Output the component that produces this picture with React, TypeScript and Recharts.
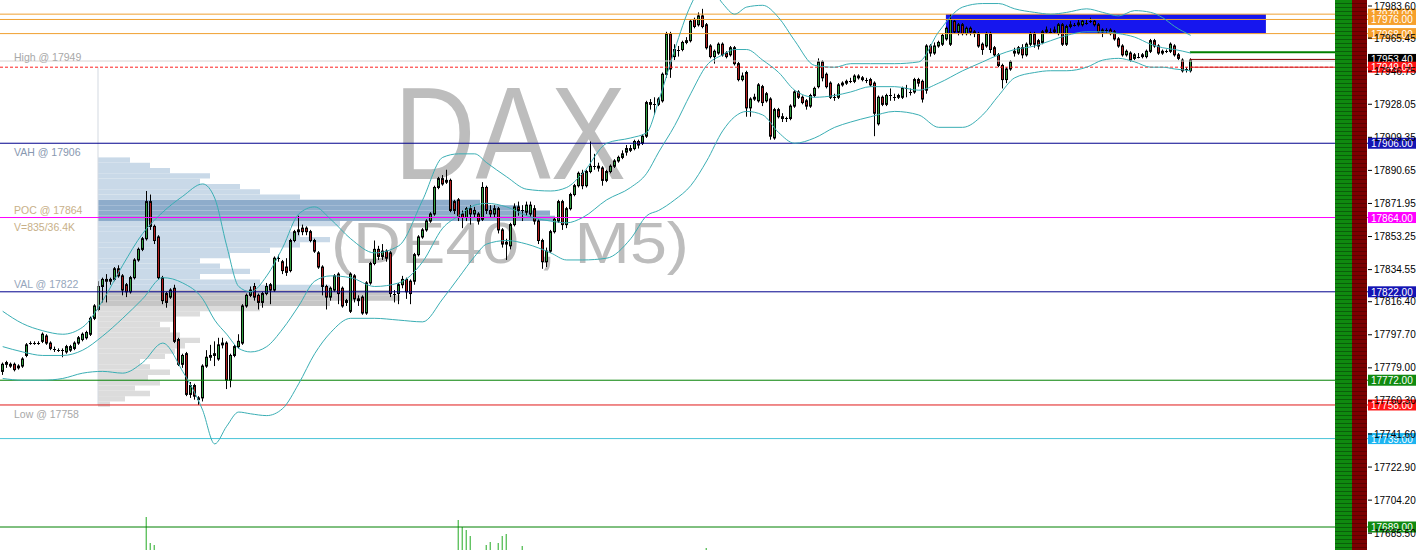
import React from "react";
import {
  ComposedChart,
  Bar,
  Line,
  XAxis,
  YAxis,
  ReferenceLine,
  ReferenceArea,
} from "recharts";

// DAX (DE40) M5 candles, oldest first
const opens = [
  17777, 17781, 17781, 17781, 17779, 17780, 17786, 17793, 17793, 17793.5,
  17794, 17797, 17793, 17790, 17789.5, 17789, 17788, 17789, 17790, 17793,
  17795, 17796, 17798, 17807, 17812, 17825, 17829, 17828, 17829, 17835,
  17831, 17826, 17822, 17830, 17840, 17846, 17852, 17873, 17859, 17853,
  17830, 17821, 17819, 17824, 17795, 17781, 17787, 17764, 17769, 17762,
  17762, 17780, 17785, 17786, 17784, 17792, 17793, 17772, 17786, 17791,
  17793, 17814, 17820, 17825, 17820, 17816, 17821, 17826, 17823, 17841,
  17839, 17836, 17834, 17851, 17856, 17858, 17858, 17856, 17851, 17844,
  17836, 17825, 17819, 17823, 17832, 17824, 17816, 17811, 17831, 17818,
  17819, 17810, 17827, 17838, 17846, 17842, 17845, 17844, 17821, 17821,
  17826, 17829, 17828, 17828, 17843, 17853, 17857, 17862, 17866, 17881,
  17886, 17884, 17885, 17873, 17874, 17866, 17864, 17869, 17866, 17866,
  17863, 17881, 17868, 17866, 17869, 17857, 17849, 17848, 17860, 17870,
  17868, 17867, 17866, 17869, 17862, 17851, 17839, 17845, 17856, 17862,
  17873, 17860, 17869, 17877, 17882, 17889, 17882, 17890, 17893, 17893,
  17892, 17885, 17890, 17893, 17896, 17898, 17901, 17902, 17903, 17907,
  17906, 17910, 17929, 17928, 17928, 17930, 17945, 17968, 17955, 17959,
  17959, 17963, 17964, 17976, 17973, 17978, 17973, 17961, 17955, 17957,
  17962, 17957, 17956, 17960, 17951, 17942, 17946, 17926, 17931, 17930,
  17938, 17930, 17931, 17909, 17925, 17921, 17920, 17920, 17927, 17935,
  17932, 17930, 17927, 17933, 17938, 17952, 17945, 17940, 17932, 17932,
  17939, 17940, 17941, 17941, 17944, 17943, 17942, 17942, 17940, 17917,
  17932, 17928, 17933, 17932, 17932, 17932, 17937, 17935, 17935, 17942,
  17941, 17936, 17961, 17957, 17961, 17962, 17965, 17962, 17975, 17969,
  17973, 17968, 17971, 17969, 17968, 17962, 17961, 17968, 17960, 17956,
  17950, 17942, 17948, 17957, 17957, 17960, 17956, 17962, 17968, 17964,
  17963, 17969, 17969, 17969, 17968, 17973, 17962, 17972, 17973, 17973,
  17973, 17974, 17975, 17975, 17973, 17969, 17970, 17970, 17969, 17965,
  17961, 17956, 17957, 17954, 17955, 17956, 17955, 17958, 17964, 17961,
  17957, 17958, 17958, 17961, 17956, 17953, 17948, 17947,
];
const closes = [
  17781, 17782, 17780, 17778, 17780, 17784, 17792, 17793, 17793.5, 17793,
  17798, 17793, 17790, 17789.5, 17789, 17789, 17791, 17791, 17793, 17796,
  17798, 17799, 17807, 17814, 17825, 17829, 17828, 17829, 17835, 17831,
  17823, 17822, 17830, 17840, 17846, 17852, 17873, 17859, 17851, 17830,
  17817, 17816, 17823, 17794, 17781, 17786, 17764, 17769, 17763, 17761,
  17780, 17785, 17786, 17787, 17792, 17793, 17772, 17786, 17791, 17794,
  17814, 17820, 17823, 17819, 17816, 17821, 17825, 17823, 17841, 17841,
  17834, 17833, 17851, 17856, 17857, 17856, 17856, 17851, 17845, 17836,
  17825, 17819, 17824, 17831, 17821, 17814, 17817, 17832, 17818, 17817,
  17810, 17827, 17838, 17846, 17842, 17845, 17841, 17821, 17821, 17826,
  17829, 17822, 17821, 17843, 17853, 17857, 17862, 17866, 17881, 17886,
  17883, 17885, 17868, 17868, 17864, 17864, 17869, 17866, 17868, 17862,
  17881, 17868, 17866, 17869, 17857, 17849, 17850, 17860, 17870, 17868,
  17868, 17871, 17871, 17862, 17851, 17839, 17845, 17856, 17863, 17873,
  17860, 17869, 17877, 17882, 17889, 17882, 17890, 17893, 17893, 17892,
  17885, 17890, 17893, 17896, 17898, 17900, 17903, 17903, 17907, 17905,
  17910, 17929, 17928, 17928, 17931, 17945, 17968, 17948, 17959, 17959,
  17963, 17964, 17975, 17972, 17978, 17972, 17960, 17955, 17958, 17962,
  17956, 17955, 17960, 17951, 17942, 17944, 17926, 17931, 17932, 17939,
  17929, 17934, 17910, 17925, 17921, 17920, 17920, 17927, 17935, 17932,
  17929, 17927, 17933, 17937, 17952, 17943, 17938, 17932, 17932, 17939,
  17940, 17941, 17941, 17944, 17943, 17942, 17942, 17939, 17923, 17932,
  17928, 17933, 17933, 17932, 17933, 17937, 17937, 17935, 17942, 17940,
  17931, 17961, 17957, 17961, 17963, 17967, 17971, 17976, 17969, 17973,
  17968, 17971, 17969, 17968, 17961, 17959, 17968, 17959, 17956, 17950,
  17942, 17948, 17952, 17958, 17960, 17956, 17962, 17968, 17962, 17961,
  17969, 17970, 17969, 17970, 17973, 17962, 17972, 17973, 17973, 17974,
  17975, 17974, 17975, 17973, 17969, 17970, 17970, 17968, 17965, 17961,
  17956, 17958, 17953, 17956, 17955, 17955, 17958, 17964, 17961, 17957,
  17958, 17958, 17962, 17956, 17954, 17947, 17948, 17953,
];
const highs = [
  17782, 17783, 17782, 17782, 17781, 17785, 17793, 17794, 17794, 17794,
  17799, 17798, 17794, 17791, 17790, 17790, 17792, 17792, 17794, 17797,
  17799, 17800, 17808, 17815, 17828, 17830, 17832, 17830, 17836, 17837,
  17832, 17827, 17831, 17841, 17847, 17853, 17879, 17877, 17860, 17854,
  17831, 17822, 17824, 17826, 17796, 17787, 17788, 17771, 17770, 17763,
  17781, 17789, 17792, 17794, 17796, 17796, 17794, 17787, 17792, 17798,
  17815, 17821, 17825, 17827, 17821, 17822, 17827, 17827, 17842, 17843,
  17840, 17841, 17852, 17857, 17865, 17860, 17859, 17857, 17852, 17845,
  17837, 17826, 17825, 17832, 17833, 17825, 17818, 17833, 17832, 17820,
  17820, 17828, 17839, 17851, 17848, 17849, 17846, 17845, 17823, 17827,
  17831, 17830, 17829, 17844, 17854, 17858, 17863, 17867, 17882, 17887,
  17888, 17891, 17886, 17874, 17875, 17868, 17870, 17871, 17870, 17867,
  17884, 17882, 17871, 17871, 17870, 17858, 17852, 17861, 17872, 17873,
  17871, 17873, 17873, 17871, 17863, 17852, 17847, 17857, 17864, 17874,
  17874, 17870, 17878, 17883, 17890, 17891, 17891, 17907, 17900, 17895,
  17893, 17891, 17894, 17897, 17899, 17902, 17905, 17905, 17908, 17908,
  17911, 17930, 17931, 17932, 17932, 17946, 17969, 17969, 17962, 17961,
  17964, 17966, 17976, 17977, 17980, 17982, 17974, 17962, 17959, 17963,
  17963, 17958, 17961, 17961, 17952, 17946, 17947, 17932, 17934, 17940,
  17939, 17935, 17932, 17926, 17926, 17923, 17921, 17928, 17936, 17936,
  17933, 17931, 17934, 17938, 17954, 17953, 17946, 17941, 17934, 17940,
  17941, 17942, 17943, 17945, 17945, 17944, 17943, 17943, 17941, 17933,
  17933, 17934, 17937, 17934, 17934, 17938, 17939, 17937, 17943, 17943,
  17942, 17962, 17962, 17963, 17964, 17968, 17972, 17979, 17976, 17974,
  17974, 17972, 17972, 17970, 17969, 17963, 17969, 17969, 17961, 17957,
  17951, 17949, 17953, 17960, 17961, 17962, 17963, 17969, 17969, 17965,
  17970, 17972, 17971, 17972, 17974, 17974, 17973, 17975, 17974, 17976,
  17976, 17976, 17977, 17976, 17974, 17971, 17971, 17971, 17970, 17966,
  17962, 17959, 17958, 17957, 17957, 17957, 17959, 17965, 17965, 17962,
  17959, 17959, 17963, 17962, 17957, 17954, 17949, 17954,
];
const lows = [
  17775, 17779, 17779, 17777, 17778, 17779, 17785, 17792, 17792, 17792,
  17793, 17792, 17789, 17788, 17788, 17785, 17787, 17788, 17789, 17792,
  17794, 17795, 17797, 17806, 17811, 17816, 17816, 17826, 17828, 17830,
  17820, 17819, 17821, 17829, 17839, 17845, 17851, 17857, 17849, 17829,
  17815, 17813, 17818, 17793, 17780, 17779, 17763, 17762, 17761, 17758,
  17760, 17779, 17783, 17780, 17783, 17790, 17767, 17768, 17785, 17790,
  17792, 17813, 17819, 17817, 17812, 17813, 17820, 17815, 17822, 17839,
  17832, 17831, 17833, 17850, 17854, 17854, 17854, 17850, 17844, 17835,
  17820, 17812, 17817, 17822, 17815, 17813, 17814, 17810, 17816, 17814,
  17809, 17809, 17826, 17837, 17840, 17840, 17839, 17819, 17816, 17815,
  17824, 17818, 17815, 17826, 17842, 17852, 17856, 17861, 17865, 17880,
  17882, 17883, 17867, 17866, 17862, 17858, 17862, 17860, 17864, 17860,
  17862, 17866, 17864, 17864, 17855, 17847, 17840, 17846, 17859, 17865,
  17862, 17865, 17864, 17860, 17849, 17835, 17836, 17844, 17855, 17861,
  17857, 17858, 17868, 17876, 17881, 17880, 17881, 17889, 17891, 17890,
  17882, 17884, 17889, 17892, 17895, 17897, 17899, 17901, 17902, 17903,
  17905, 17909, 17925, 17922, 17927, 17929, 17943, 17943, 17953, 17955,
  17958, 17962, 17963, 17971, 17972, 17971, 17959, 17954, 17951, 17956,
  17955, 17954, 17955, 17950, 17941, 17941, 17921, 17921, 17930, 17929,
  17927, 17929, 17908, 17908, 17920, 17918, 17918, 17919, 17926, 17931,
  17928, 17925, 17926, 17932, 17937, 17941, 17937, 17931, 17930, 17931,
  17938, 17939, 17940, 17940, 17942, 17941, 17940, 17938, 17910, 17916,
  17927, 17927, 17930, 17930, 17931, 17931, 17932, 17933, 17934, 17938,
  17929, 17934, 17955, 17956, 17960, 17961, 17964, 17961, 17968, 17967,
  17967, 17967, 17967, 17966, 17960, 17956, 17960, 17957, 17955, 17949,
  17937, 17940, 17947, 17955, 17956, 17954, 17955, 17961, 17960, 17959,
  17962, 17968, 17968, 17968, 17967, 17961, 17961, 17971, 17972, 17972,
  17972, 17973, 17974, 17972, 17968, 17966, 17968, 17967, 17964, 17960,
  17955, 17955, 17952, 17953, 17954, 17954, 17954, 17957, 17960, 17956,
  17956, 17957, 17957, 17955, 17953, 17946, 17946, 17946,
];

// Bollinger bands, read at these candle indices
const bbIndex = [
  0, 5, 10, 15, 20, 25, 30, 35, 40, 45, 50, 53, 56, 59, 62, 66, 70, 74, 78, 82,
  87, 93, 99, 105, 110, 114, 118, 121, 126, 131, 137, 141, 145, 151, 157, 161,
  164, 168, 172, 176, 180, 183, 186, 190, 194, 198, 203, 208, 212, 217, 223,
  229, 234, 240, 245, 249, 253, 258, 262, 266, 271, 275, 279, 283, 287, 290,
  293, 297,
];
const bbUpper = [
  17811, 17804, 17800, 17798, 17802, 17817, 17837, 17855, 17867, 17876,
  17883, 17875, 17848, 17825, 17822, 17831, 17847, 17866, 17870, 17863,
  17852, 17844, 17848, 17874, 17898, 17900, 17900, 17895, 17887, 17880,
  17879, 17881, 17889, 17906, 17909, 17912, 17930, 17959, 17984, 17997,
  17985, 17979, 17983, 17984, 17977, 17964, 17950, 17949, 17951, 17951,
  17951, 17952, 17969, 17983, 17985, 17985, 17982, 17980, 17979, 17980,
  17982, 17980, 17978, 17981, 17980, 17977, 17972, 17967,
];
const bbMiddle = [
  17791, 17788, 17786, 17786, 17789, 17797, 17807, 17818, 17830, 17827,
  17818, 17806, 17798, 17790, 17788, 17791, 17801, 17814, 17828, 17831,
  17830, 17825, 17827, 17839, 17858, 17865, 17871, 17872, 17870, 17865,
  17862, 17861, 17864, 17874, 17881, 17889, 17901, 17916, 17934, 17950,
  17956, 17959, 17959, 17953, 17946, 17936, 17932, 17933, 17935, 17938,
  17938, 17936, 17940, 17947, 17952, 17956, 17959, 17961, 17964, 17967,
  17969, 17969, 17968, 17966, 17962, 17960, 17959, 17957,
];
const bbLower = [
  17773, 17772, 17772, 17773, 17776, 17777, 17776, 17782, 17793, 17777,
  17755, 17736, 17746, 17754, 17753, 17752, 17756, 17770, 17787, 17799,
  17807, 17807, 17806, 17805, 17818, 17830, 17842, 17849, 17851, 17849,
  17844, 17840, 17840, 17841, 17852, 17865, 17868, 17874, 17882, 17896,
  17913, 17921, 17924, 17922, 17912, 17906, 17909, 17915, 17918, 17921,
  17924, 17922, 17915, 17915, 17922, 17933, 17943, 17946, 17947, 17947,
  17949, 17953, 17954, 17952, 17949, 17949, 17948, 17947,
];

// tick volume spikes of the lower pane
const volIndex = [36, 37, 38, 114, 115, 116, 117, 121, 122, 124, 125, 126, 130, 176];
const volValues = [33, 7, 5, 30, 23, 20, 14, 5, 8, 7, 14, 16, 4, 2];

// volume profile: bin low (3 pt bins) and volume
const profileLevels = [
  17757, 17760, 17763, 17766, 17769, 17772, 17775, 17778, 17781, 17784,
  17787, 17790, 17793, 17796, 17799, 17802, 17805, 17808, 17811, 17814,
  17817, 17820, 17823, 17826, 17829, 17832, 17835, 17838, 17841, 17844,
  17847, 17850, 17853, 17856, 17859, 17862, 17865, 17868, 17871, 17874,
  17877, 17880, 17883, 17886, 17889, 17892, 17895,
];
const profileVolume = [
  12, 27, 52, 37, 62, 50, 72, 52, 42, 67,
  77, 87, 102, 82, 72, 62, 77, 102, 162, 232,
  302, 292, 232, 162, 102, 152, 122, 102, 132, 172,
  202, 232, 202, 192, 242, 457, 452, 422, 382, 202,
  162, 142, 102, 112, 72, 52, 32,
];

const yTicks = [
  17983.6, 17965.45, 17946.75, 17928.05, 17909.35, 17890.65, 17871.95, 17853.25,
  17834.55, 17816.4, 17797.7, 17779.0, 17760.3, 17741.6, 17722.9, 17704.2, 17685.5,
];

// horizontal levels across the chart
const levelPrices = [17979, 17976, 17968, 17952.5, 17906, 17864, 17822, 17772, 17758, 17739, 17689];
const levelColors = ["#f0a030", "#f0a030", "#f0a030", "#d4d4d4", "#00008c", "#ff00ff", "#00008c", "#008000", "#e01818", "#48c4d8", "#008000"];

// short levels right of the last bar
const segPrices = [17957.5, 17953.4, 17949];
const segColors = ["#008000", "#800000", "#d02020"];
const segWidths = [2, 1, 1];

// price tags on the axis
const tagPrices = [17979, 17976, 17968, 17953.4, 17949, 17906, 17864, 17822, 17772, 17758, 17739, 17689];
const tagColors = ["#f6a02c", "#f6a02c", "#f6a02c", "#000000", "#ff1414", "#1414b4", "#ff00ff", "#1414b4", "#108a10", "#ff1414", "#1cb4f0", "#108a10"];

// left side texts
const sidePrices = [17949, 17906, 17864, 17864, 17822, 17758];
const sideTexts = ["High @ 17949", "VAH @ 17906", "POC @ 17864", "V=835/36.4K", "VAL @ 17822", "Low @ 17758"];
const sideColors = ["#a8a8a8", "#8898b0", "#c8b088", "#c8b088", "#96a6bc", "#a8a8a8"];
const sideOffsets = [-6, 13, -4, 13, -4, 13];

const rows: any[] = opens.map((o, i) => ({
  i,
  o,
  c: closes[i],
  h: highs[i],
  l: lows[i],
  range: [lows[i], highs[i]],
}));
volIndex.forEach((idx, k) => {
  rows[idx].vol = volValues[k];
});
const bbRows = bbIndex.map((i, k) => ({ i, u: bbUpper[k], m: bbMiddle[k], lo: bbLower[k] }));

const X_DOMAIN: [number, number] = [-0.675, 341.325];
const PROFILE_X = 23.825;
const SEG_FROM = 296.8;
const SEG_TO = 333.1;
const BOX_FROM = 235.8;
const BOX_TO = 315.8;
const FONT = "'Liberation Sans', Arial, sans-serif";
const GREEN = "#2f9d3e";
const RED = "#b01c1c";
const BAND = "#3aaeb4";

const Candle = (props: any) => {
  const { x, y, width, height, payload } = props;
  if (payload == null || x == null || y == null) return null;
  const { o, c, h, l } = payload;
  const top = Math.min(y, y + height);
  const hgt = Math.abs(height);
  const span = h - l;
  const py = (p: number) => (span > 0 ? top + ((h - p) / span) * hgt : top);
  const cx = Math.floor(x + width / 2) + 0.5;
  const bTop = py(Math.max(o, c));
  const bBot = py(Math.min(o, c));
  return (
    <g>
      <line x1={cx} x2={cx} y1={top} y2={top + hgt} stroke="#000" strokeWidth={1} />
      {bBot - bTop < 1.5 ? (
        <line
          x1={cx - 1.5}
          x2={cx + 1.5}
          y1={Math.round((bTop + bBot) / 2) + 0.5}
          y2={Math.round((bTop + bBot) / 2) + 0.5}
          stroke="#000"
          strokeWidth={1}
        />
      ) : (
        <rect
          x={cx - 1}
          y={bTop}
          width={2}
          height={bBot - bTop}
          fill={c >= o ? GREEN : RED}
          stroke="#000"
          strokeWidth={1}
        />
      )}
    </g>
  );
};

const PriceTag = (props: any) => {
  const { viewBox, text, color } = props;
  if (!viewBox) return null;
  const left = viewBox.x + viewBox.width;
  return (
    <g>
      <rect x={left} y={viewBox.y - 5.5} width={48} height={11} fill={color} />
      <text x={left + 3} y={viewBox.y + 4} fill="#fff" fontSize={10} fontFamily={FONT}>
        {text}
      </text>
    </g>
  );
};

const SideText = (props: any) => {
  const { viewBox, text, color, dy } = props;
  if (!viewBox) return null;
  return (
    <text x={viewBox.x + 14} y={viewBox.y + dy} fill={color} fontSize={10.5} fontFamily={FONT}>
      {text}
    </text>
  );
};

const profileColor = (lvl: number) => {
  const mid = lvl + 1.5;
  if (mid > 17862 && mid < 17874) return "#8eaccb";
  if (mid > 17822 && mid < 17906) return "#c9d9e8";
  if (mid > 17814 && mid < 17822) return "#c6c6c6";
  return "#dcdcdc";
};

const App = () => {
  return (
    <div style={{ position: "absolute", left: 0, top: 0, width: 1420, height: 550, background: "#fff" }}>
      <svg width={1420} height={550} style={{ position: "absolute", left: 0, top: 0 }}>
        <text
          x={510}
          y={179}
          textAnchor="middle"
          fontSize={132}
          fill="#bdbdbd"
          fontFamily={FONT}
          textLength={232}
          lengthAdjust="spacingAndGlyphs"
        >
          DAX
        </text>
        <text
          x={510}
          y={263}
          textAnchor="middle"
          fontSize={57}
          fill="#bdbdbd"
          fontFamily={FONT}
          textLength={358}
          lengthAdjust="spacingAndGlyphs"
        >
          (DE40 , M5)
        </text>
      </svg>
      <div style={{ position: "absolute", left: 0, top: 0 }}>
        <ComposedChart width={1420} height={550} data={rows} margin={{ top: 0, right: 0, bottom: 0, left: 0 }}>
          <XAxis xAxisId="x" dataKey="i" type="number" domain={X_DOMAIN} allowDataOverflow hide />
          <XAxis xAxisId="v" dataKey="i" type="number" domain={X_DOMAIN} allowDataOverflow hide />
          <YAxis
            yAxisId="p"
            orientation="right"
            width={52}
            domain={[17676, 17987]}
            allowDataOverflow
            ticks={yTicks}
            interval={0}
            tickFormatter={(v: number) => v.toFixed(2)}
            axisLine={false}
            tickSize={4}
            tickMargin={2}
            tickLine={{ stroke: "#000" }}
            tick={{ fontSize: 10, fill: "#000", fontFamily: FONT }}
          />
          <YAxis yAxisId="v" hide domain={[0, 550]} allowDataOverflow />

          {profileLevels.map((lvl, k) => (
            <ReferenceArea
              key={"pf" + k}
              xAxisId="x"
              yAxisId="p"
              x1={PROFILE_X}
              x2={PROFILE_X + profileVolume[k] / 4}
              y1={lvl}
              y2={lvl + 3}
              fill={profileColor(lvl)}
              fillOpacity={1}
              stroke="none"
            />
          ))}
          <ReferenceArea
            xAxisId="x"
            yAxisId="p"
            x1={BOX_FROM}
            x2={BOX_TO}
            y1={17968}
            y2={17979}
            fill="#1616ee"
            fillOpacity={1}
            stroke="none"
          />
          <ReferenceLine
            xAxisId="x"
            yAxisId="p"
            segment={[
              { x: PROFILE_X, y: 17949 },
              { x: PROFILE_X, y: 17758 },
            ]}
            stroke="#d3d9e1"
          />

          {levelPrices.map((p, k) => (
            <ReferenceLine key={"lv" + k} xAxisId="x" yAxisId="p" y={p} stroke={levelColors[k]} strokeWidth={1} />
          ))}
          <ReferenceLine xAxisId="x" yAxisId="p" y={17949} stroke="#ff2020" strokeDasharray="3 2" />
          {segPrices.map((p, k) => (
            <ReferenceLine
              key={"sg" + k}
              xAxisId="x"
              yAxisId="p"
              segment={[
                { x: SEG_FROM, y: p },
                { x: SEG_TO, y: p },
              ]}
              stroke={segColors[k]}
              strokeWidth={segWidths[k]}
            />
          ))}

          <Line data={bbRows} xAxisId="x" yAxisId="p" dataKey="u" type="monotone" stroke={BAND} strokeWidth={1} dot={false} activeDot={false} isAnimationActive={false} />
          <Line data={bbRows} xAxisId="x" yAxisId="p" dataKey="m" type="monotone" stroke={BAND} strokeWidth={1} dot={false} activeDot={false} isAnimationActive={false} />
          <Line data={bbRows} xAxisId="x" yAxisId="p" dataKey="lo" type="monotone" stroke={BAND} strokeWidth={1} dot={false} activeDot={false} isAnimationActive={false} />

          <Bar xAxisId="x" yAxisId="p" dataKey="range" barSize={3} shape={<Candle />} isAnimationActive={false} />
          <Bar xAxisId="v" yAxisId="v" dataKey="vol" barSize={1} fill="#22aa22" isAnimationActive={false} />

          {sidePrices.map((p, k) => (
            <ReferenceLine
              key={"sd" + k}
              xAxisId="x"
              yAxisId="p"
              y={p}
              stroke="none"
              label={<SideText text={sideTexts[k]} color={sideColors[k]} dy={sideOffsets[k]} />}
            />
          ))}
          {tagPrices.map((p, k) => (
            <ReferenceLine
              key={"tg" + k}
              xAxisId="x"
              yAxisId="p"
              y={p}
              stroke="none"
              label={<PriceTag text={p.toFixed(2)} color={tagColors[k]} />}
            />
          ))}
        </ComposedChart>
      </div>
      <div
        style={{
          position: "absolute",
          left: 1335,
          top: 0,
          width: 17,
          height: 550,
          background: "repeating-linear-gradient(to bottom, #0f8a0f 0px, #0f8a0f 3px, #0a5e0a 3px, #0a5e0a 4px)",
        }}
      />
      <div
        style={{
          position: "absolute",
          left: 1352,
          top: 0,
          width: 15,
          height: 550,
          background: "repeating-linear-gradient(to bottom, #7c0000 0px, #7c0000 3px, #5c0000 3px, #5c0000 4px)",
        }}
      />
    </div>
  );
};

export default App;
